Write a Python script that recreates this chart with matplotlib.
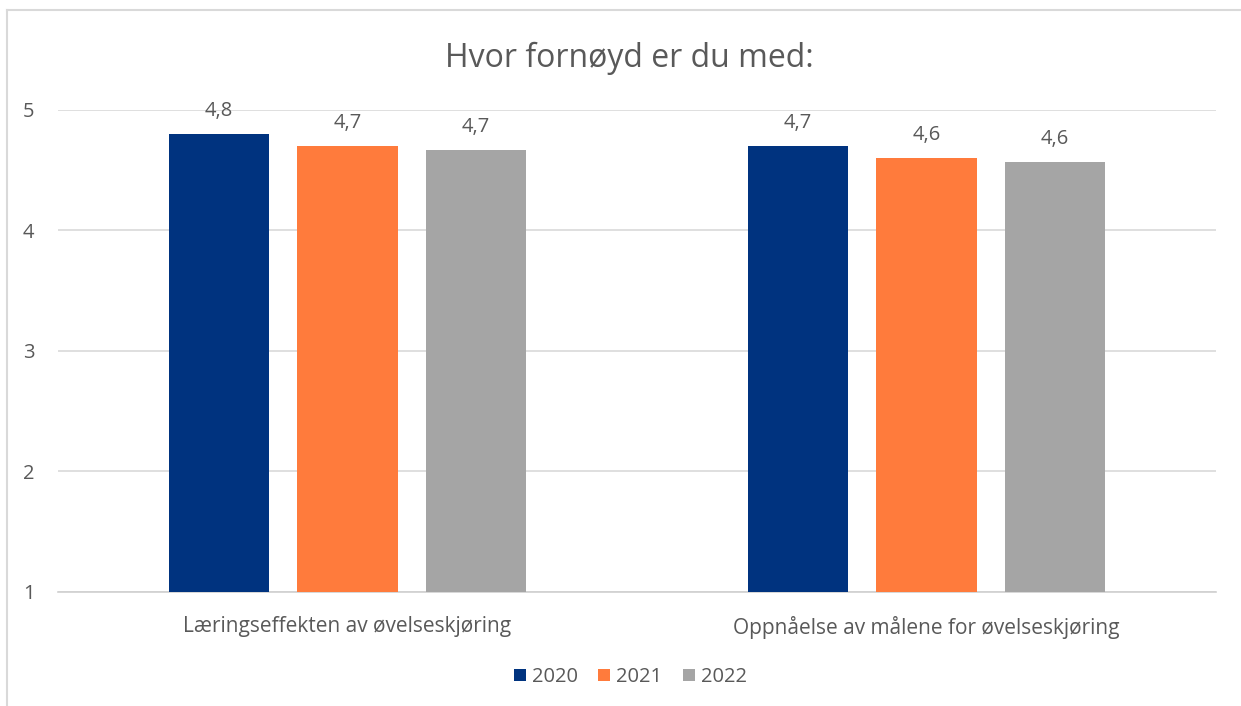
import matplotlib.pyplot as plt
import numpy as np
from matplotlib.lines import Line2D

categories = ['Læringseffekten av øvelseskjøring', 'Oppnåelse av målene for øvelseskjøring']
years = ['2020', '2021', '2022']
values_2020 = [4.8, 4.7]
values_2021 = [4.7, 4.6]
values_2022 = [4.67, 4.57]
colors = ['#00337F', '#FF7B3C', '#A5A5A5']

plt.rcParams['font.family'] = ['Open Sans', 'DejaVu Sans']
text_color = '#595959'

fig = plt.figure(figsize=(12.41, 7.06), dpi=100)
ax = fig.add_axes([0.0467, 0.1615, 0.9332, 0.6827])

x = np.arange(len(categories))
width = 0.174
step = 0.222
series = [values_2020, values_2021, values_2022]
for i, (vals, yr, c) in enumerate(zip(series, years, colors)):
    pos = x + (i - 1) * step
    ax.bar(pos, [v - 1 for v in vals], width, bottom=1, color=c, label=yr, zorder=3)
    for xp, v in zip(pos, vals):
        ax.text(xp, v + 0.11, f'{v:.1f}'.replace('.', ','), ha='center', va='bottom',
                fontsize=14.5, color=text_color)

ax.set_xlim(-0.5, 1.5)
ax.set_ylim(1, 5)
ax.set_yticks([1, 2, 3, 4, 5])
ax.yaxis.grid(True, color='#D9D9D9', linewidth=1.2, zorder=0)
ax.set_xticks(x)
ax.set_xticklabels(categories)
ax.tick_params(axis='y', length=0, pad=17, labelsize=14.5, labelcolor=text_color)
ax.tick_params(axis='x', length=0, pad=17, labelsize=15, labelcolor=text_color)
for s in ['top', 'right', 'left']:
    ax.spines[s].set_visible(False)
ax.spines['bottom'].set_color('#D0D0D0')
ax.spines['bottom'].set_linewidth(1.2)

fig.text(0.5075, 0.918, 'Hvor fornøyd er du med:', ha='center', va='center',
         fontsize=23, color=text_color)

leg = fig.legend(loc='center', bbox_to_anchor=(0.508, 0.041), ncol=3, frameon=False,
                 fontsize=14.5, handlelength=0.6, handleheight=0.6, handletextpad=0.3,
                 columnspacing=1.0)
for t in leg.get_texts():
    t.set_color(text_color)

# outer chart border
fig.add_artist(Line2D([7 / 1241, 7 / 1241], [0, 1 - 10 / 706], transform=fig.transFigure,
                      color='#D9D9D9', linewidth=1.5))
fig.add_artist(Line2D([7 / 1241, 1], [1 - 10 / 706, 1 - 10 / 706], transform=fig.transFigure,
                      color='#D9D9D9', linewidth=1.5))

fig.savefig('out.png', dpi=100)
